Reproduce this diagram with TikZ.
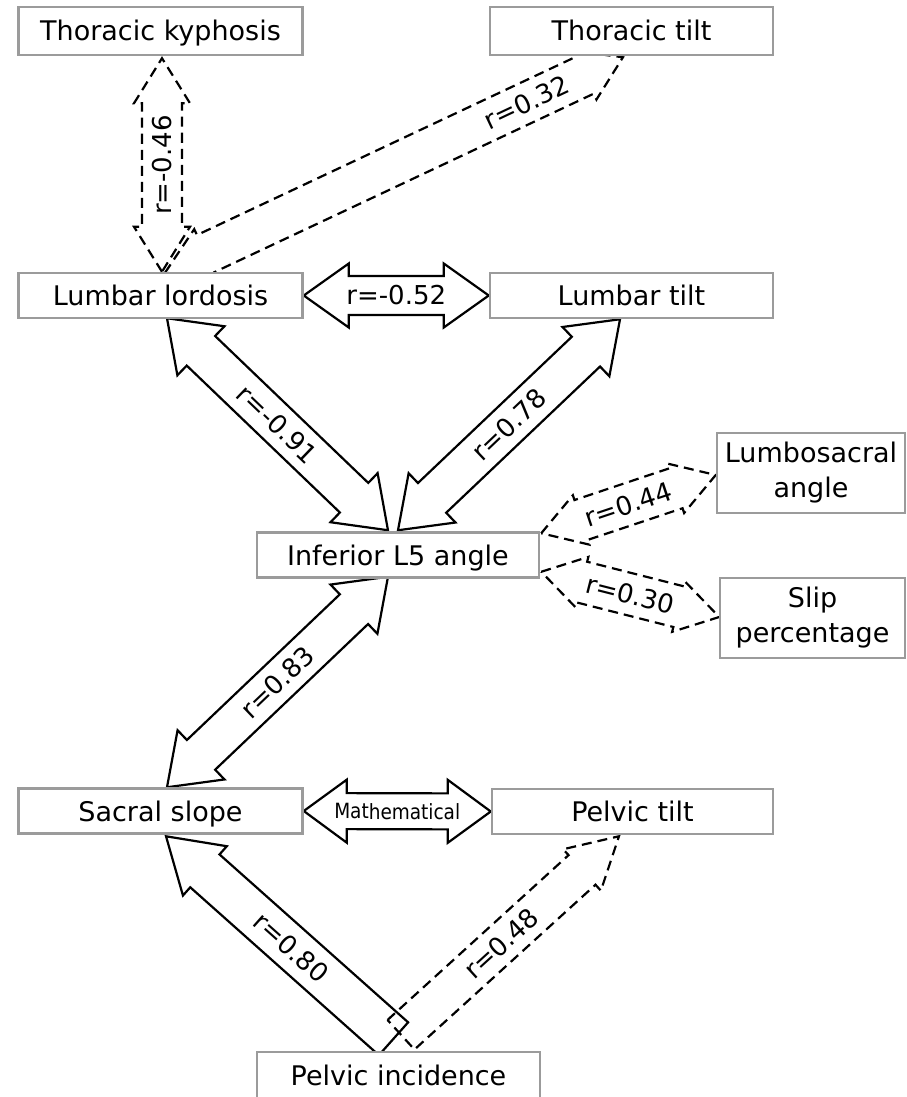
\documentclass[tikz,border=0pt]{standalone}
\usepackage{fontspec}
\usepackage{graphicx}
\setmainfont{DejaVu Sans}
\usetikzlibrary{calc,backgrounds}
\definecolor{boxgray}{RGB}{155,155,155}
\tikzset{
  box/.style={draw=boxgray, line width=2.5pt, fill=white, minimum width=284pt,
    minimum height=45pt, inner sep=0pt, font=\fontsize{27}{34}\selectfont,
    text height=21pt, text depth=1pt},
  box2/.style={draw=boxgray, line width=2.5pt, fill=white, minimum height=80pt,
    inner sep=0pt, font=\fontsize{27}{35}\selectfont, align=center},
  solidarrow/.style={draw=black, line width=2.2pt, line join=miter},
  dasharrow/.style={draw=black, line width=2.2pt, dash pattern=on 10pt off 6pt},
  rlabel/.style={font=\fontsize{26}{30}\selectfont, inner sep=0pt},
}
% #1 style, #2 from, #3 to, #4 shaft half width, #5 head half width,
% #6 head length at start (0 = flat end), #7 head length at end, #8 label, #9 label position
\newcommand\blockarrow[9]{%
  \path let \p1=(#2), \p2=(#3),
    \n1={atan2(\y2-\y1,\x2-\x1)}, \n2={veclen(\x2-\x1,\y2-\y1)} in
    \pgfextra{\xdef\BAangraw{\n1}\xdef\BAlenraw{\n2}\xdef\BAx{\x1}\xdef\BAy{\y1}};
  \pgfmathsetmacro\BAang{\BAangraw}%
  \pgfmathsetmacro\BAlen{\BAlenraw}%
  \pgfmathsetmacro\BAtxt{\BAang>90 ? \BAang-180 : (\BAang<-90 ? \BAang+180 : \BAang)}%
  \begin{scope}[shift={(\BAx,\BAy)}, rotate=\BAang]
    \ifdim#6pt=0pt
      \draw[#1] (0pt,#4pt) -- (\BAlen pt-#7pt,#4pt) -- (\BAlen pt-#7pt,#5pt)
        -- (\BAlen pt,0pt) -- (\BAlen pt-#7pt,-#5pt) -- (\BAlen pt-#7pt,-#4pt)
        -- (0pt,-#4pt) -- cycle;
    \else
      \draw[#1] (0pt,0pt) -- (#6pt,#5pt) -- (#6pt,#4pt) -- (\BAlen pt-#7pt,#4pt)
        -- (\BAlen pt-#7pt,#5pt) -- (\BAlen pt,0pt) -- (\BAlen pt-#7pt,-#5pt)
        -- (\BAlen pt-#7pt,-#4pt) -- (#6pt,-#4pt) -- (#6pt,-#5pt) -- cycle;
    \fi
    \node[rlabel, rotate=\BAtxt] at (#9*\BAlen pt,0pt) {#8};
  \end{scope}%
}
\begin{document}
\begin{tikzpicture}[x=1pt,y=-1pt]
\useasboundingbox (0,0) rectangle (906,1097);

\node[box,minimum height=48pt] (tk) at (160.5,31) {Thoracic kyphosis};
\node[box,minimum height=48pt,minimum width=283pt] (tt) at (631.5,31) {Thoracic tilt};
\node[box] (ll) at (160.5,295.5) {Lumbar lordosis};
\node[box,minimum width=283pt] (lt) at (631.5,295.5) {Lumbar tilt};
\node[box,minimum width=282pt] (l5) at (398,555) {Inferior L5 angle};
\node[box2,minimum width=188pt] (ls) at (811,473) {Lumbosacral\\angle};
\node[box2,minimum width=185pt] (sp) at (812.5,618) {Slip\\percentage};
\node[box] (ss) at (160.5,811) {Sacral slope};
\node[box,minimum width=281pt] (pt) at (632.5,811.5) {Pelvic tilt};
\node[box,minimum width=283pt,minimum height=46pt] (pi) at (398.5,1075) {Pelvic incidence};

\begin{pgfonlayer}{background}
\blockarrow{dasharrow}{$(ll.north)+(1.5,0)$}{$(tk.south)+(1.5,2)$}{20}{28}{45}{45}{r=-0.46}{0.5}
\blockarrow{dasharrow}{$(ll.north)+(4.5,1)$}{$(tt.south)+(-8.5,1)$}{20.5}{27}{45}{42}{r=0.32}{0.79}
\blockarrow{solidarrow}{ll.east}{lt.west}{19.5}{32}{45}{45}{r=-0.52}{0.5}
\blockarrow{solidarrow}{$(ll.south)+(6.5,-1)$}{$(l5.north)+(-10,-1)$}{20.5}{34}{47}{47}{r=-0.91}{0.5}
\blockarrow{solidarrow}{$(l5.north)+(0,-1)$}{$(lt.south)+(-11.5,0)$}{20.5}{34}{47}{47}{r=0.78}{0.5}
\blockarrow{solidarrow}{$(ss.north)+(6.5,0)$}{$(l5.south)+(-10,-2)$}{20.5}{34}{47}{47}{r=0.83}{0.5}
\blockarrow{solidarrow}{ss.east}{pt.west}{18}{31.5}{43}{43}{\scalebox{0.88}[1]{\fontsize{21}{25}\selectfont Mathematical}}{0.5}
\blockarrow{solidarrow}{$(pi.north)+(-5,-12)$}{$(ss.south)+(5.5,1.5)$}{22}{33}{0}{52}{r=0.80}{0.45}
\blockarrow{dasharrow}{$(pi.north)+(2.5,-16)$}{$(pt.south)+(-13.5,1)$}{20}{28}{0}{50}{r=0.48}{0.46}
\blockarrow{dasharrow}{$(l5.north east)+(1,2)$}{$(ls.west)+(0,2)$}{21}{26}{42}{42}{r=0.44}{0.5}
\blockarrow{dasharrow}{$(l5.south east)+(1,-7)$}{$(sp.west)+(0.5,-1)$}{21}{26}{42}{42}{r=0.30}{0.5}
\end{pgfonlayer}
\end{tikzpicture}
\end{document}
